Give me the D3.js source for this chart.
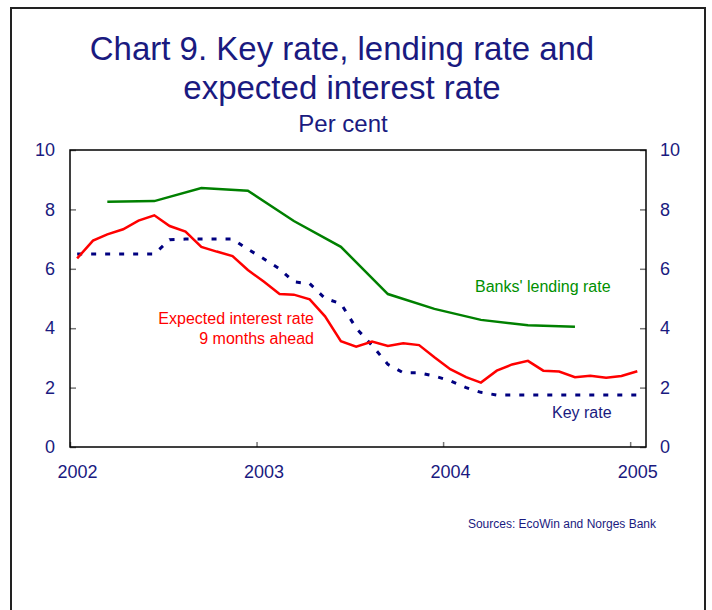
<!DOCTYPE html>
<html>

<head>
  <title>Chart 9</title>
  <script type='text/javascript' src='https://cdn.jsdelivr.net/npm/d3@7/dist/d3.min.js'></script>
  <style type="text/css">
    body {
      margin: 0;
      background: #fff;
    }

    text {
      font-family: "Liberation Sans", Arial, sans-serif;
    }
  </style>
</head>

<body>
</body>
<script type='text/javascript'>

  let [w, h] = [712, 610]

  // monthly observations (mid-month)
  var months = ["2002-01", "2002-02", "2002-03", "2002-04", "2002-05", "2002-06", "2002-07", "2002-08", "2002-09", "2002-10", "2002-11", "2002-12",
    "2003-01", "2003-02", "2003-03", "2003-04", "2003-05", "2003-06", "2003-07", "2003-08", "2003-09", "2003-10", "2003-11", "2003-12",
    "2004-01", "2004-02", "2004-03", "2004-04", "2004-05", "2004-06", "2004-07", "2004-08", "2004-09", "2004-10", "2004-11", "2004-12",
    "2005-01"];

  var keyRate = [6.5, 6.5, 6.5, 6.5, 6.5, 6.5, 6.98, 7.0, 7.0, 7.0, 7.0, 6.66,
    6.34, 6.0, 5.56, 5.5, 5.0, 4.83, 4.0, 3.42, 2.78, 2.5, 2.5, 2.39,
    2.23, 2.0, 1.84, 1.75, 1.75, 1.75, 1.75, 1.75, 1.75, 1.75, 1.75, 1.75,
    1.75];

  var expectedRate = [6.35, 6.95, 7.16, 7.33, 7.62, 7.80, 7.44, 7.25, 6.74, 6.58, 6.43, 5.96,
    5.57, 5.15, 5.13, 4.97, 4.40, 3.56, 3.38, 3.55, 3.40, 3.49, 3.43, 3.02,
    2.62, 2.35, 2.17, 2.57, 2.78, 2.90, 2.57, 2.54, 2.35, 2.40, 2.33, 2.39,
    2.55];

  // quarterly observations
  var quarters = ["2002-03", "2002-06", "2002-09", "2002-12", "2003-03", "2003-06", "2003-09", "2003-12", "2004-03", "2004-06", "2004-09"];
  var lendingRate = [8.26, 8.28, 8.72, 8.63, 7.61, 6.74, 5.15, 4.65, 4.28, 4.10, 4.05];

  var yTicks = [0, 2, 4, 6, 8, 10];
  var yearTicks = ["2002", "2003", "2004", "2005"];

  var navy = "#1a1a80";
  var parseMonth = d3.timeParse("%Y-%m-%d");
  var mid = function (m) { return parseMonth(m + "-15"); };

  var svg = d3.select("body")
    .append("svg")
    .attr("width", w)
    .attr("height", h);

  // outer frame (bottom runs off the page)
  svg.append("rect")
    .attr("x", 11).attr("y", 8)
    .attr("width", 694).attr("height", 640)
    .attr("fill", "none")
    .attr("stroke", "#222")
    .attr("stroke-width", 2);

  // titles
  var title = svg.append("g").attr("fill", navy).attr("text-anchor", "middle");
  title.append("text").attr("x", 342).attr("y", 60).attr("font-size", 33)
    .text("Chart 9. Key rate, lending rate and");
  title.append("text").attr("x", 342).attr("y", 99).attr("font-size", 33)
    .text("expected interest rate");
  title.append("text").attr("x", 343).attr("y", 132).attr("font-size", 24)
    .text("Per cent");

  var x = d3.scaleTime()
    .domain([new Date(2002, 0, 1), new Date(2005, 1, 1)])
    .range([70, 646]);
  var y = d3.scaleLinear()
    .domain([0, 10])
    .range([447, 150]);

  var styleAxis = function (g) {
    g.select(".domain").remove();
    g.selectAll(".tick line").attr("stroke", "#777").attr("stroke-width", 1.5);
    g.selectAll(".tick text").attr("fill", navy).attr("font-size", 18)
      .attr("font-family", "Liberation Sans, Arial, sans-serif");
  };

  svg.append("g")
    .attr("transform", "translate(70,0)")
    .call(d3.axisLeft(y).tickValues(yTicks).tickSizeInner(-6).tickSizeOuter(0).tickPadding(15))
    .call(styleAxis);

  svg.append("g")
    .attr("transform", "translate(646,0)")
    .call(d3.axisRight(y).tickValues(yTicks).tickSizeInner(-6).tickSizeOuter(0).tickPadding(14))
    .call(styleAxis);

  var xAxis = svg.append("g")
    .attr("transform", "translate(0,447)")
    .call(d3.axisBottom(x).tickValues(yearTicks.map(function (d) { return new Date(+d, 0, 1); }))
      .tickFormat(d3.timeFormat("%Y")).tickSizeInner(-5).tickSizeOuter(0).tickPadding(18))
    .call(styleAxis);
  xAxis.selectAll(".tick text").attr("dx", 7);

  // plot frame
  svg.append("rect")
    .attr("x", 70).attr("y", 150)
    .attr("width", 576).attr("height", 297)
    .attr("fill", "none")
    .attr("stroke", "#000")
    .attr("stroke-width", 1.5);

  var line = d3.line()
    .x(function (d) { return x(d[0]); })
    .y(function (d) { return y(d[1]); });

  svg.append("path")
    .datum(quarters.map(function (m, i) { return [mid(m), lendingRate[i]]; }))
    .attr("d", line)
    .attr("fill", "none")
    .attr("stroke", "#008000")
    .attr("stroke-width", 2.5);

  svg.append("path")
    .datum(months.map(function (m, i) { return [mid(m), keyRate[i]]; }))
    .attr("d", line)
    .attr("fill", "none")
    .attr("stroke", "#000080")
    .attr("stroke-width", 3)
    .attr("stroke-dasharray", "5,9");

  svg.append("path")
    .datum(months.map(function (m, i) { return [mid(m), expectedRate[i]]; }))
    .attr("d", line)
    .attr("fill", "none")
    .attr("stroke", "#ff0000")
    .attr("stroke-width", 2.5);

  // series labels
  svg.append("text").attr("x", 475).attr("y", 292).attr("font-size", 16)
    .attr("fill", "#009000").text("Banks' lending rate");
  var red = svg.append("g").attr("fill", "#ff0000").attr("font-size", 16).attr("text-anchor", "end");
  red.append("text").attr("x", 314).attr("y", 324).text("Expected interest rate");
  red.append("text").attr("x", 314).attr("y", 344).text("9 months ahead");
  svg.append("text").attr("x", 552).attr("y", 418).attr("font-size", 16)
    .attr("fill", navy).text("Key rate");

  svg.append("text").attr("x", 656).attr("y", 528).attr("font-size", 12)
    .attr("text-anchor", "end").attr("fill", navy)
    .text("Sources: EcoWin and Norges Bank");

</script>

</html>
